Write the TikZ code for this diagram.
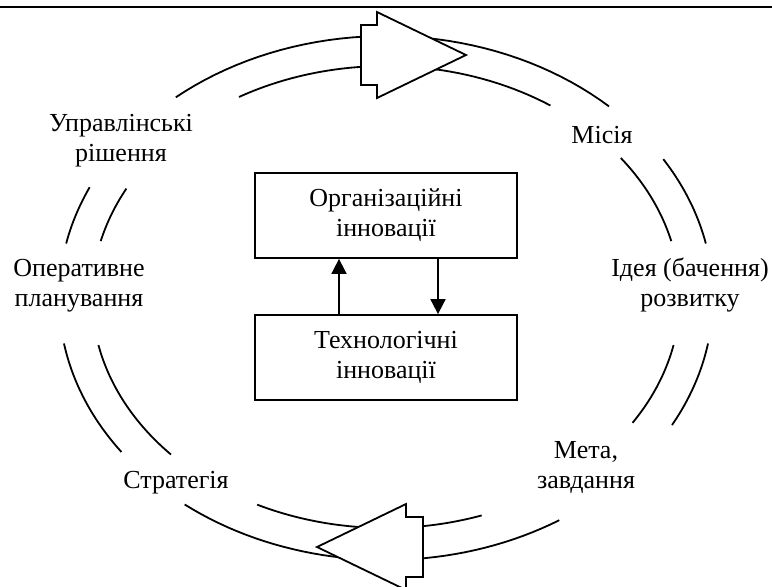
\documentclass[tikz,border=0pt]{standalone}
\usepackage{fontspec}
\setmainfont{Liberation Serif}
\usepackage{tikz}
\usetikzlibrary{arrows.meta}
\tikzset{>={Triangle[length=7.5pt,width=7.5pt]}}
\tikzstyle{box}=[draw,line width=0.9pt,minimum width=131pt,minimum height=42.5pt,align=center,inner sep=0pt]
\tikzstyle{lbl}=[align=center,inner sep=0pt]
\tikzstyle{ring}=[line width=0.9pt]
\begin{document}
\begin{tikzpicture}[x=0.5pt,y=-0.5pt,font=\fontsize{13}{15}\selectfont]
 \useasboundingbox (0,0) rectangle (772,586);
 % top rule
 \draw[line width=1.3pt] (0,7) -- (772,7);
 % outer and inner ring, broken at the labels
 \foreach \A/\B in {47/130,155/168,190/216,232/302,331/350,12/32}
  \draw[ring] plot[domain=\A:\B,samples=40,variable=\t] ({386+327*cos(\t)},{298-262*sin(\t)});
 \foreach \A/\B in {56/120,152/166,192/223,244/289,327/348,14/37}
  \draw[ring] plot[domain=\A:\B,samples=40,variable=\t] ({386+294*cos(\t)},{297-231*sin(\t)});
 % block arrows on the ring
 \filldraw[ring,fill=white] (361,25) -- (377,25) -- (377,12) -- (466,55) -- (377,98) -- (377,85) -- (361,85) -- cycle;
 \filldraw[ring,fill=white] (423,517) -- (406,517) -- (406,504) -- (317,547) -- (406,590) -- (406,577) -- (423,577) -- cycle;
 %
 \node[box] (org) at (386,215.5) {Організаційні\\інновації};
 \node[box] (tech) at (386,357.5) {Технологічні\\інновації};
 \draw[->,line width=0.9pt] ([xshift=-23.5pt]tech.north) -- ([xshift=-23.5pt]org.south);
 \draw[->,line width=0.9pt] ([xshift=26pt]org.south) -- ([xshift=26pt]tech.north);
 %
 \node[lbl] (upr) at (121,141) {Управлінські\\рішення};
 \node[lbl] (oper) at (79,286) {Оперативне\\планування};
 \node[lbl,anchor=base] (mis) at (602,143) {Місія};
 \node[lbl] (idea) at (690,285) {Ідея (бачення)\\розвитку};
 \node[lbl,anchor=base] (strat) at (176,488) {Стратегія};
 \node[lbl] (meta) at (586,467) {Мета,\\завдання};
\end{tikzpicture}
\end{document}
